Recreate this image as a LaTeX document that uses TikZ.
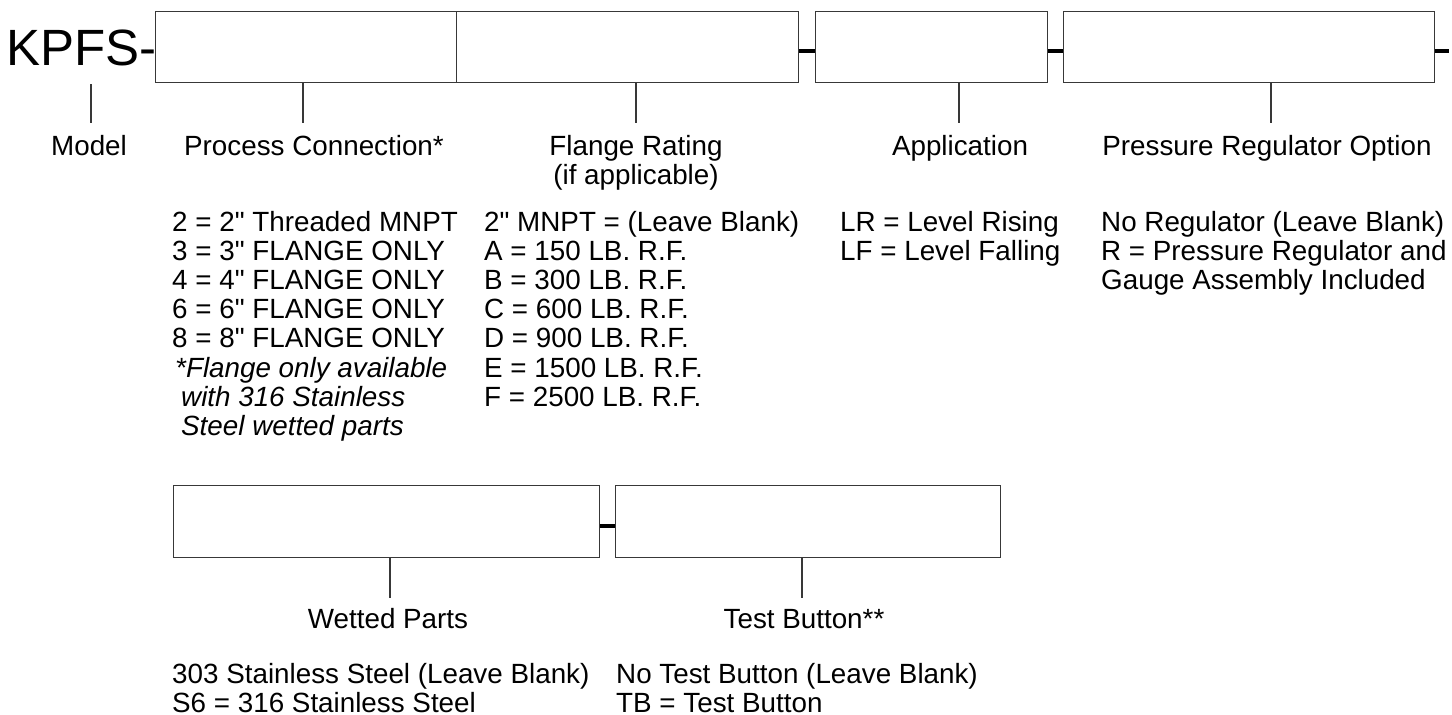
\documentclass[tikz,border=0pt]{standalone}
\usepackage{fontspec}
\setmainfont{Liberation Sans}
\newcommand\inchmark{\XeTeXglyph\XeTeXcharglyph"22\relax}
\begin{document}
\begin{tikzpicture}[x=1pt,y=-1pt,
  box/.style={draw=black!78, line width=1.3pt, fill=white, inner sep=0pt, anchor=north west},
  tickline/.style={draw=black!78, line width=1.3pt},
  bar/.style={line width=4pt, black},
  lbl/.style={anchor=base, inner sep=0pt, font=\fontsize{27.8}{29.2}\selectfont},
  itm/.style={anchor=base west, inner sep=0pt, font=\fontsize{27.8}{29.2}\selectfont},
  itl/.style={itm, font=\fontsize{27.8}{29.2}\selectfont\itshape},
]
\useasboundingbox (0,0) rectangle (1452,715);

% model prefix
\node[anchor=base west, inner sep=0pt, font=\fontsize{51}{51}\selectfont] (kpfs) at (6,65) {KPFS-};

% top row boxes
\node[box, minimum width=301pt, minimum height=71pt] (b1) at (155,11) {};
\node[box, minimum width=342pt, minimum height=71pt] (b2) at (456,11) {};
\node[box, minimum width=232pt, minimum height=71pt] (b3) at (815,11) {};
\node[box, minimum width=371pt, minimum height=71pt] (b4) at (1063,11) {};
% bottom row boxes
\node[box, minimum width=426pt, minimum height=72pt] (b5) at (173,485) {};
\node[box, minimum width=385pt, minimum height=72pt] (b6) at (615,485) {};

% dashes between boxes
\coordinate (dy) at (0,51);
\coordinate (dy2) at (0,526);
\coordinate (endbar) at (1449,51);
\draw[bar] (b2.east |- dy) -- (b3.west |- dy);
\draw[bar] (b3.east |- dy) -- (b4.west |- dy);
\draw[bar] (b4.east |- dy) -- (endbar);
\draw[bar] (b5.east |- dy2) -- (b6.west |- dy2);

% ticks
\coordinate (tm0) at (91,84);
\coordinate (tm) at (91,123);
\coordinate (t1) at (303,123);
\coordinate (t2) at (636,123);
\coordinate (t3) at (959,123);
\coordinate (t4) at (1271,123);
\coordinate (t5) at (390,598);
\coordinate (t6) at (802,598);
\draw[tickline] (tm0) -- (tm);
\draw[tickline] (t1 |- b1.south) -- (t1);
\draw[tickline] (t2 |- b2.south) -- (t2);
\draw[tickline] (t3 |- b3.south) -- (t3);
\draw[tickline] (t4 |- b4.south) -- (t4);
\draw[tickline] (t5 |- b5.south) -- (t5);
\draw[tickline] (t6 |- b6.south) -- (t6);

% labels
\node[lbl] (lmodel) at (89,155) {Model};
\node[lbl] (lpc) at (314,155) {Process Connection*};
\node[lbl] (lfr) at (636,155) {Flange Rating};
\node[lbl] (lfr2) at (636,184) {(if applicable)};
\node[lbl] (lapp) at (960,155) {Application};
\node[lbl] (lpr) at (1267,155) {Pressure Regulator Option};
\node[lbl] (lwp) at (388,628) {Wetted Parts};
\node[lbl] (ltb) at (804,628) {Test Button**};

% process connection list
\foreach \t [count=\i] in {{2 = 2\inchmark{} Threaded MNPT},{3 = 3\inchmark{} FLANGE ONLY},{4 = 4\inchmark{} FLANGE ONLY},{6 = 6\inchmark{} FLANGE ONLY},{8 = 8\inchmark{} FLANGE ONLY}}
  \node[itm] (pc\i) at (172,{231+29.2*(\i-1)}) {\t};
\node[itl] (pc6) at (175,{231+29.2*5}) {*Flange only available};
\node[itl] (pc7) at (181,{231+29.2*6}) {with 316 Stainless};
\node[itl] (pc8) at (181,{231+29.2*7}) {Steel wetted parts};

% flange rating list
\foreach \t [count=\i] in {{2\inchmark{} MNPT = (Leave Blank)},{A = 150 LB. R.F.},{B = 300 LB. R.F.},{C = 600 LB. R.F.},{D = 900 LB. R.F.},{E = 1500 LB. R.F.},{F = 2500 LB. R.F.}}
  \node[itm] (fr\i) at (484,{231+29.2*(\i-1)}) {\t};

% application list
\node[itm] (ap1) at (840,231) {LR = Level Rising};
\node[itm] (ap2) at (840,260.2) {LF = Level Falling};

% pressure regulator list
\node[itm] (pr1) at (1101,231) {No Regulator (Leave Blank)};
\node[itm] (pr2) at (1101,260.2) {R = Pressure Regulator and};
\node[itm] (pr3) at (1101,289.4) {Gauge Assembly Included};

% wetted parts list
\node[itm] (wp1) at (172,683) {303 Stainless Steel (Leave Blank)};
\node[itm] (wp2) at (172,712) {S6 = 316 Stainless Steel};

% test button list
\node[itm] (tb1) at (616,683) {No Test Button (Leave Blank)};
\node[itm] (tb2) at (616,712) {TB = Test Button};
\end{tikzpicture}
\end{document}
